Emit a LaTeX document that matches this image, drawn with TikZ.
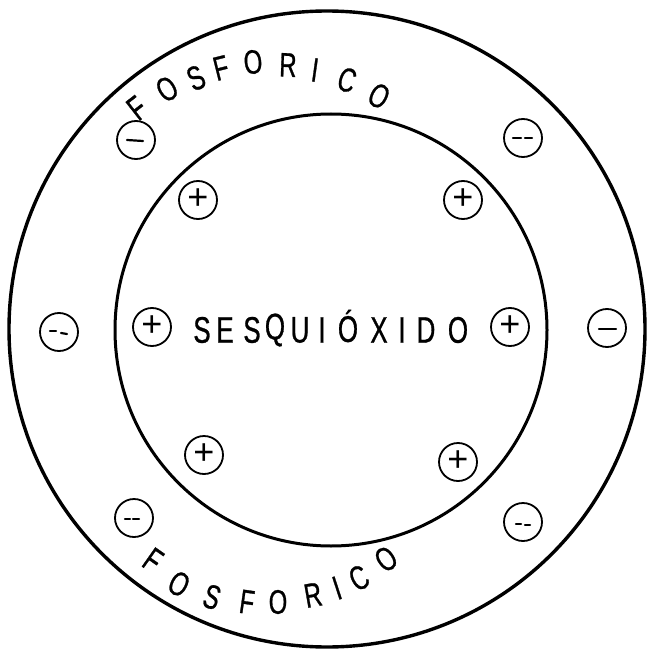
\documentclass[tikz,border=0pt]{standalone}
\usepackage{fontspec}
\setmainfont{Liberation Sans}[FakeStretch=0.7,FakeBold=0.8]
\newfontfamily\plusfont{Liberation Sans}
\begin{document}
\begin{tikzpicture}[x=1pt,y=-1pt,
  ion/.style={circle,draw,line width=1.8pt,minimum size=38pt,inner sep=0pt,font=\plusfont\fontsize{36}{36}\selectfont},
  lett/.style={inner sep=0pt,font=\fontsize{37}{37}\selectfont},
  arc/.style={inner sep=0pt,font=\fontsize{34}{34}\selectfont},
  dsh/.style={line width=2.2pt,line cap=round},
  big/.style={line width=2.6pt}]
\useasboundingbox (0,0) rectangle (653,650);
\draw[big,line width=3.4pt] (327,329) circle[radius=318];
\draw[big,line width=3pt] (331,330) circle[radius=216];
% ions
\node[ion] (m1) at (136,140) {};
\node[ion] (m2) at (523,138) {};
\node[ion] (p1) at (198,200) {\raisebox{1pt}{+}};
\node[ion] (p2) at (463,200) {\raisebox{1pt}{+}};
\node[ion] (m3) at (59,332) {};
\node[ion] (m4) at (607,328) {};
\node[ion] (p3) at (152,327) {\raisebox{1pt}{+}};
\node[ion] (p4) at (510,327) {\raisebox{1pt}{+}};
\node[ion] (p5) at (204,455) {\raisebox{1pt}{+}};
\node[ion] (p6) at (458,462) {\raisebox{1pt}{+}};
\node[ion] (m5) at (134,518) {};
\node[ion] (m6) at (523,522) {};
% minus signs
\draw[dsh] ([xshift=-9pt,yshift=0pt]m1.center) -- ([xshift=7pt,yshift=-1pt]m1.center);
\draw[dsh] ([xshift=-10pt]m2.center) -- ([xshift=-2pt]m2.center);
\draw[dsh] ([xshift=2pt]m2.center) -- ([xshift=9pt]m2.center);
\draw[dsh] ([xshift=-9pt,yshift=1pt]m3.center) -- ([xshift=-3pt,yshift=1pt]m3.center);
\draw[dsh] ([xshift=2pt,yshift=-1pt]m3.center) -- ([xshift=8pt,yshift=-2pt]m3.center);
\draw[dsh] ([xshift=-8pt,yshift=-1pt]m4.center) -- ([xshift=9pt,yshift=-1pt]m4.center);
\draw[dsh] ([xshift=-9pt,yshift=-1pt]m5.center) -- ([xshift=-4pt,yshift=-1pt]m5.center);
\draw[dsh] ([xshift=-1pt,yshift=-1pt]m5.center) -- ([xshift=5pt,yshift=-1pt]m5.center);
\draw[dsh] ([xshift=-7pt,yshift=-2pt]m6.center) -- ([xshift=-2pt,yshift=-2pt]m6.center);
\draw[dsh] ([xshift=2pt,yshift=-3pt]m6.center) -- ([xshift=7pt,yshift=-3pt]m6.center);
% central text
\node[lett] (s1) at (202,330) {S};
\node[lett] (s2) at (225,330) {E};
\node[lett] (s3) at (252,330) {S};
\node[lett] (s4) at (275,330) {Q};
\node[lett] (s5) at (300,330) {U};
\node[lett] (s6) at (322,330) {I};
\node[lett] (s7) at (348,326) {Ó};
\node[lett] (s8) at (379,330) {X};
\node[lett] (s9) at (402,330) {I};
\node[lett] (s10) at (426,330) {D};
\node[lett] (s11) at (458,330) {O};
% top arc text
\node[arc,rotate=38] (t1) at (137,108) {F};
\node[arc,rotate=32] (t2) at (167,89) {O};
\node[arc,rotate=24] (t3) at (196,78) {S};
\node[arc,rotate=14] (t4) at (221,68) {F};
\node[arc,rotate=6] (t5) at (253,62) {O};
\node[arc,rotate=-2] (t6) at (288,65) {R};
\node[arc,rotate=-8] (t7) at (315,70) {I};
\node[arc,rotate=-18] (t8) at (347,80) {C};
\node[arc,rotate=-28] (t9) at (379,96) {O};
% bottom arc text
\node[arc,rotate=-35] (b1) at (153,560) {F};
\node[arc,rotate=-28] (b2) at (179,584) {O};
\node[arc,rotate=-18] (b3) at (212,597) {S};
\node[arc,rotate=-8] (b4) at (247,602) {F};
\node[arc,rotate=0] (b5) at (278,602) {O};
\node[arc,rotate=10] (b6) at (313,595) {R};
\node[arc,rotate=18] (b7) at (337,588) {I};
\node[arc,rotate=27] (b8) at (359,578) {C};
\node[arc,rotate=35] (b9) at (386,559) {O};
\end{tikzpicture}
\end{document}
